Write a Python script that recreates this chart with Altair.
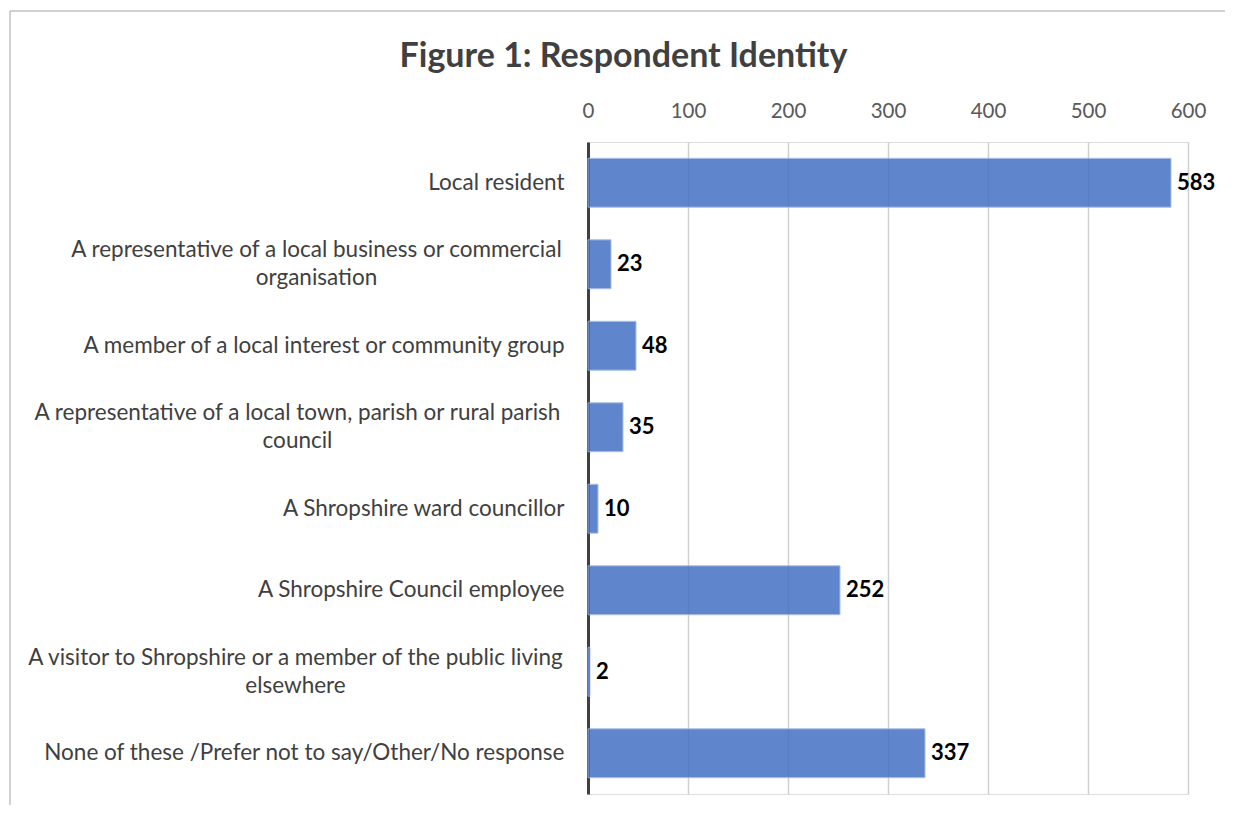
import altair as alt
import pandas as pd

categories = [
    "Local resident",
    "A representative of a local business or commercial\norganisation",
    "A member of a local interest or community group",
    "A representative of a local town, parish or rural parish\ncouncil",
    "A Shropshire ward councillor",
    "A Shropshire Council employee",
    "A visitor to Shropshire or a member of the public living\nelsewhere",
    "None of these /Prefer not to say/Other/No response",
]
values = [583, 23, 48, 35, 10, 252, 2, 337]
x_ticks = [0, 100, 200, 300, 400, 500, 600]
title_text = "Figure 1: Respondent Identity"

df = pd.DataFrame({"category": categories, "count": values})

FONT = "Lato"

y_enc = alt.Y(
    "category:N",
    sort=categories,
    title=None,
    scale=alt.Scale(paddingInner=0.4, paddingOuter=0.2),
    axis=alt.Axis(
        labelExpr="split(datum.label, '\\n')",
        labelFont=FONT,
        labelFontSize=22.5,
        labelColor="#404040",
        labelLineHeight=28,
        labelLimit=700,
        ticks=False,
        domainColor="#404040",
        domainWidth=3,
        labelAlign={
            "condition": {"test": "indexof(datum.value, '\\n') >= 0", "value": "center"},
            "value": "right",
        },
        labelOffset={
            "condition": {"test": "indexof(datum.value, '\\n') >= 0", "value": -14},
            "value": 0,
        },
        labelPadding={
            "condition": [
                {"test": "indexof(datum.value, 'business') >= 0", "value": 272},
                {"test": "indexof(datum.value, 'town') >= 0", "value": 291},
                {"test": "indexof(datum.value, 'visitor') >= 0", "value": 293},
            ],
            "value": 24,
        },
    ),
)

x_enc = alt.X(
    "count:Q",
    title=None,
    scale=alt.Scale(domain=[0, 600], nice=False),
    axis=alt.Axis(
        orient="top",
        values=x_ticks,
        labelFont=FONT,
        labelFontSize=20.5,
        labelColor="#595959",
        labelPadding=21,
        labelFlush=False,
        ticks=False,
        domain=False,
        grid=True,
        gridColor="#d0d0d0",
        gridWidth=1.5,
    ),
)

base = alt.Chart(df)

bars = base.mark_bar(
    color="#4472C4", opacity=0.85, stroke="#9db5e0", strokeWidth=1
).encode(x=x_enc, y=y_enc)

labels = base.mark_text(
    align="left", baseline="middle", dx=6, font=FONT, fontSize=22,
    fontWeight="bold", color="#000000"
).encode(x="count:Q", y=alt.Y("category:N", sort=categories), text="count:Q")

frame_df = pd.DataFrame({"k": [0]})
top_line = alt.Chart(frame_df).mark_rule(color="#c0c0c0", strokeWidth=1.5).encode(
    x=alt.value(-578), x2=alt.value(700), y=alt.value(-131)
)
left_line = alt.Chart(frame_df).mark_rule(color="#c0c0c0", strokeWidth=1.5).encode(
    x=alt.value(-578), y=alt.value(-131), y2=alt.value(700)
)

title_df = pd.DataFrame({"title": [title_text]})
title_mark = alt.Chart(title_df).mark_text(
    align="center", baseline="middle", font=FONT, fontSize=34,
    fontWeight="bold", color="#404040"
).encode(x=alt.value(35.5), y=alt.value(-85), text="title:N")

chart = alt.layer(top_line, left_line, bars, labels, title_mark).properties(
    width=600,
    height=652,
    padding={"left": 580, "top": 134, "right": 37, "bottom": 11},
    autosize=alt.AutoSizeParams(type="none"),
).configure_view(stroke=None).configure(background="white")

chart.save("out.html", embed_options={"renderer": "svg", "actions": False})
